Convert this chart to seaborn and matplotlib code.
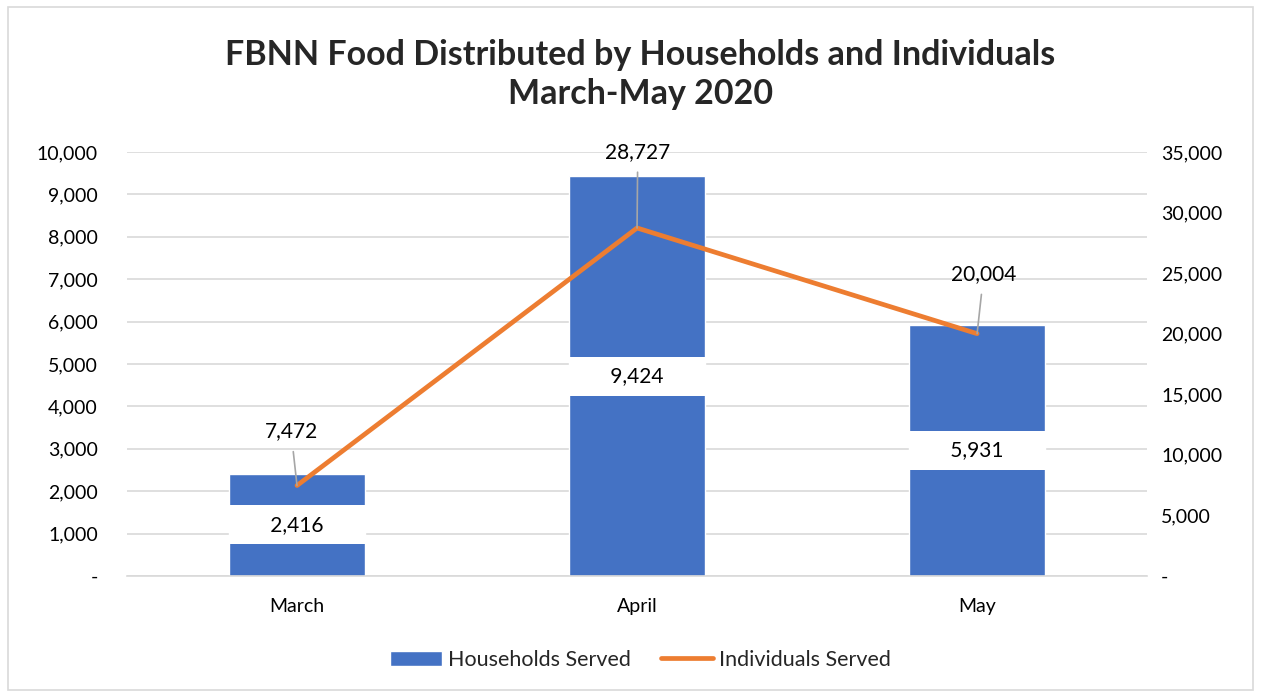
import numpy as np
import pandas as pd
import matplotlib.pyplot as plt
import seaborn as sns
from matplotlib.patches import Rectangle
from matplotlib.lines import Line2D
from matplotlib.ticker import FuncFormatter

# chart values
months = ['March', 'April', 'May']
households = [2416, 9424, 5931]
individuals = [7472, 28727, 20004]

bar_color = '#4472C4'
line_color = '#ED7D31'
grid_color = '#D9D9D9'

sns.set_theme(style='white')
plt.rcParams['font.family'] = ['Lato', 'DejaVu Sans']

df = pd.DataFrame({'Month': months, 'Households Served': households,
                   'Individuals Served': individuals})

fig = plt.figure(figsize=(12.61, 6.93), dpi=100)
ax = fig.add_axes([0.1007, 0.1688, 0.809, 0.6119])

# light frame round the whole chart
fig.patches.append(Rectangle((0.006, 0.004), 0.988, 0.986, transform=fig.transFigure,
                             fill=False, edgecolor=grid_color, linewidth=1.2))

sns.barplot(data=df, x='Month', y='Households Served', color=bar_color, width=0.4,
            saturation=1, ax=ax, zorder=2)
ax.set_xlim(-0.5, 2.5)
ax.set_ylim(0, 10000)
ax.set_yticks(np.arange(0, 10001, 1000))
thousands = FuncFormatter(lambda v, p: '-' if v == 0 else f'{int(v):,}')
ax.yaxis.set_major_formatter(thousands)
ax.grid(axis='y', color=grid_color, linewidth=1.2, zorder=0)
ax.set_axisbelow(True)
for s in ['top', 'left', 'right']:
    ax.spines[s].set_visible(False)
ax.spines['bottom'].set_color(grid_color)
ax.spines['bottom'].set_linewidth(1.2)
ax.tick_params(axis='y', length=0, pad=21, labelsize=14, colors='#000000')
ax.tick_params(axis='x', length=0, pad=16, labelsize=14, colors='#000000')
ax.set_xlabel('')
ax.set_ylabel('')

# bar value labels in white boxes at bar middle
for i, v in enumerate(households):
    ax.text(i, v / 2, f'      {v:,}      ', ha='center', va='center', fontsize=15,
            color='black', zorder=4,
            bbox=dict(facecolor='white', edgecolor='none', boxstyle='square,pad=0.45'))

# secondary axis with the line
ax2 = ax.twinx()
sns.lineplot(x=np.arange(len(months)), y=individuals, color=line_color, linewidth=3.4,
             ax=ax2, zorder=3)
ax2.set_ylim(0, 35000)
ax2.set_yticks(np.arange(0, 35001, 5000))
ax2.yaxis.set_major_formatter(thousands)
ax2.tick_params(axis='y', length=0, pad=10, labelsize=14, colors='#000000')
for s in ax2.spines.values():
    s.set_visible(False)
ax2.set_ylabel('')

offsets = [(-4.3, 38.9), (0.5, 54.7), (4.7, 42.8)]
for i, (v, off) in enumerate(zip(individuals, offsets)):
    ax2.annotate(f'{v:,}', xy=(i, v), xytext=off, textcoords='offset points',
                 ha='center', va='center', fontsize=15, color='black',
                 arrowprops=dict(arrowstyle='-', color='#A6A6A6', lw=1.2, shrinkA=5, shrinkB=0))

fig.text(0.508, 0.8925, 'FBNN Food Distributed by Households and Individuals\nMarch-May 2020',
         ha='center', va='center', fontsize=24.5, fontweight='bold', linespacing=1.3)

handles = [Rectangle((0, 0), 1, 1, facecolor=bar_color),
           Line2D([0], [0], color=line_color, linewidth=3.4)]
fig.legend(handles, ['Households Served', 'Individuals Served'], loc='center',
           bbox_to_anchor=(0.508, 0.048), ncol=2, frameon=False, fontsize=15.5,
           handlelength=2.4, handletextpad=0.3, columnspacing=1.4)

fig.savefig('out.png', dpi=100)
